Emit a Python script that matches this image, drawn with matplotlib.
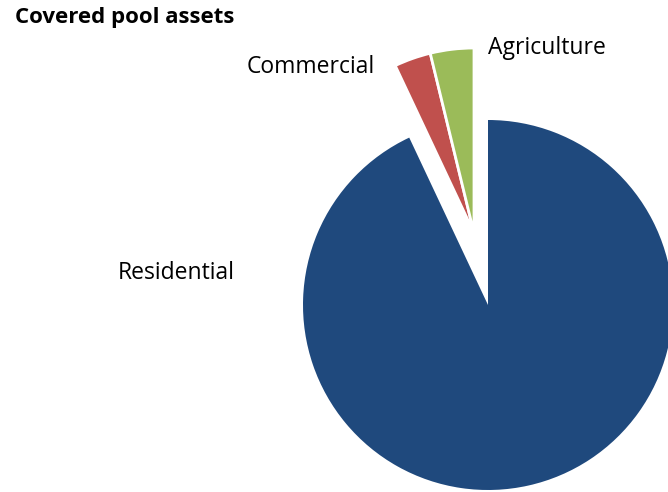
"""Covered pool assets — pie chart by asset type."""

import matplotlib.pyplot as plt

categories = ["Residential", "Commercial", "Agriculture"]
shares = [93.0, 3.2, 3.8]  # % of covered pool

COLORS = ["#1F497D", "#C0504D", "#9BBB59"]
PULLED_OUT = [False, True, True]

# label anchor positions in pixel units (figure is 668 x 492)
LABEL_POS = {
    "Residential": (176, 219),
    "Commercial": (311, 425),
    "Agriculture": (547, 444),
}

W, H = 668, 492
RADIUS = 185
CENTER = (488, 187)
PULL = (-14, 72)  # shift shared by the pulled-out slices


def main() -> None:
    plt.rcParams["font.family"] = ["Open Sans", "DejaVu Sans"]
    fig = plt.figure(figsize=(W / 100, H / 100), dpi=100)
    ax = fig.add_axes([0, 0, 1, 1])

    # slices that stay in place
    base_colors = [c if not p else "none" for c, p in zip(COLORS, PULLED_OUT)]
    ax.pie(
        shares, colors=base_colors,
        startangle=90, counterclock=False,
        center=CENTER, radius=RADIUS,
        wedgeprops=dict(edgecolor="none", linewidth=0),
    )
    # pulled-out slices, all moved by the same offset
    pulled_colors = [c if p else "none" for c, p in zip(COLORS, PULLED_OUT)]
    wedges, _ = ax.pie(
        shares, colors=pulled_colors,
        startangle=90, counterclock=False,
        center=(CENTER[0] + PULL[0], CENTER[1] + PULL[1]), radius=RADIUS,
        wedgeprops=dict(edgecolor="white", linewidth=2),
    )
    for w, p in zip(wedges, PULLED_OUT):
        if not p:
            w.set_visible(False)

    ax.set_xlim(0, W)
    ax.set_ylim(0, H)
    ax.set_aspect("equal")
    ax.axis("off")

    for name in categories:
        x, y = LABEL_POS[name]
        ax.text(x, y, name, fontsize=16.5, ha="center", va="center",
                color="black")

    fig.text(15 / W, 1 - 18 / H, "Covered pool assets", fontsize=16,
             fontweight="bold", ha="left", va="center")

    fig.savefig("out.png", dpi=100)
    plt.close(fig)


if __name__ == "__main__":
    main()
